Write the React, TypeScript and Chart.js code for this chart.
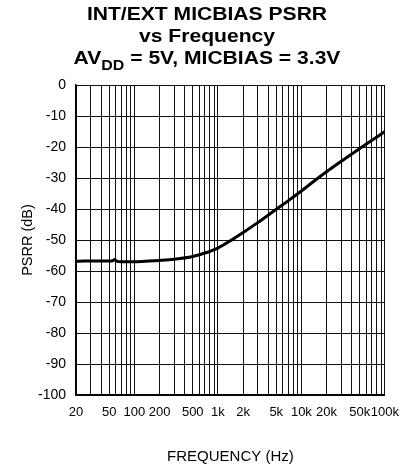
import React, { useEffect, useRef } from "react";
import { Chart, registerables } from "chart.js";

Chart.register(...registerables);

const frequencyHz = [
  20, 25, 30, 40, 50, 55, 58, 61, 70, 100, 150, 200, 300, 500, 700, 1000, 1500,
  2000, 3000, 5000, 7000, 10000, 15000, 20000, 30000, 50000, 70000, 100000,
];
const psrrDb = [
  -56.9, -56.8, -56.8, -56.8, -56.8, -56.7, -56.3, -56.8, -57.0, -57.0, -56.8,
  -56.6, -56.2, -55.3, -54.2, -52.6, -49.8, -47.6, -44.4, -40.1, -37.3, -34.2,
  -30.5, -28.0, -24.6, -20.5, -17.8, -15.0,
];

const xTickValues = [
  20, 30, 40, 50, 60, 70, 80, 90, 100, 200, 300, 400, 500, 600, 700, 800, 900,
  1000, 2000, 3000, 4000, 5000, 6000, 7000, 8000, 9000, 10000, 20000, 30000,
  40000, 50000, 60000, 70000, 80000, 90000, 100000,
];
const xLabelValues = [20, 50, 100, 200, 500, 1000, 2000, 5000, 10000, 20000, 50000, 100000];
const xLabelTexts = ["20", "50", "100", "200", "500", "1k", "2k", "5k", "10k", "20k", "50k", "100k"];

const titleLine1 = "INT/EXT MICBIAS PSRR";
const titleLine2 = "vs Frequency";
const titleLine3a = "AV";
const titleLine3sub = "DD";
const titleLine3b = " = 5V, MICBIAS = 3.3V";

const FONT = '"Liberation Sans", Arial, Helvetica, sans-serif';

const titlePlugin = {
  id: "customTitle",
  afterDraw(chart: any) {
    const ctx = chart.ctx as CanvasRenderingContext2D;
    const cx = 207;
    const sx = 1.14;
    const main = `bold 18.5px ${FONT}`;
    const sub = `bold 14px ${FONT}`;
    ctx.save();
    ctx.fillStyle = "#000";
    ctx.textBaseline = "alphabetic";
    ctx.textAlign = "left";
    const drawCentered = (text: string, y: number) => {
      ctx.font = main;
      const w = ctx.measureText(text).width;
      ctx.save();
      ctx.translate(cx, y);
      ctx.scale(sx, 1);
      ctx.fillText(text, -w / 2, 0);
      ctx.restore();
    };
    drawCentered(titleLine1, 20);
    drawCentered(titleLine2, 42);
    ctx.font = main;
    const wa = ctx.measureText(titleLine3a).width;
    const wb = ctx.measureText(titleLine3b).width;
    ctx.font = sub;
    const ws = ctx.measureText(titleLine3sub).width;
    const total = wa + ws + wb;
    ctx.save();
    ctx.translate(cx, 0);
    ctx.scale(sx, 1);
    let x = -total / 2;
    ctx.font = main;
    ctx.fillText(titleLine3a, x, 63.5);
    x += wa;
    ctx.font = sub;
    ctx.fillText(titleLine3sub, x, 70);
    x += ws;
    ctx.font = main;
    ctx.fillText(titleLine3b, x, 63.5);
    ctx.restore();
    ctx.restore();
  },
};

export default function App() {
  const ref = useRef<HTMLCanvasElement>(null);
  useEffect(() => {
    document.body.style.margin = "0";
    const data = frequencyHz.map((f, i) => ({ x: f, y: psrrDb[i] }));
    const chart = new Chart(ref.current!, {
      type: "line",
      data: {
        datasets: [
          {
            data,
            borderColor: "#000",
            borderWidth: 3,
            pointRadius: 0,
            cubicInterpolationMode: "monotone",
            fill: false,
          },
        ],
      },
      options: {
        animation: false,
        responsive: false,
        layout: { padding: { top: 85, right: 21, left: 0, bottom: 0 } },
        plugins: { legend: { display: false }, title: { display: false }, tooltip: { enabled: false } },
        scales: {
          x: {
            type: "logarithmic",
            min: 20,
            max: 100000,
            afterBuildTicks: (scale: any) => {
              scale.ticks = xTickValues.map((v) => ({ value: v }));
            },
            afterFit: (scale: any) => {
              scale.height = 71;
            },
            ticks: {
              autoSkip: false,
              maxRotation: 0,
              minRotation: 0,
              padding: 10,
              color: "#000",
              font: { family: FONT, size: 13 },
              callback: (v: any) => {
                const i = xLabelValues.indexOf(Number(v));
                return i >= 0 ? xLabelTexts[i] : "";
              },
            },
            grid: { color: "#111", lineWidth: 1, drawTicks: false },
            border: { color: "#000", width: 1.5 },
            title: {
              display: true,
              text: "FREQUENCY (Hz)",
              color: "#000",
              font: { family: FONT, size: 15 },
              padding: { top: 0, bottom: 0 },
            },
          },
          y: {
            type: "linear",
            min: -100,
            max: 0,
            afterFit: (scale: any) => {
              scale.width = 76;
            },
            ticks: {
              stepSize: 10,
              padding: 10,
              color: "#000",
              font: { family: FONT, size: 14 },
            },
            grid: { color: "#111", lineWidth: 1, drawTicks: false },
            border: { color: "#000", width: 1.5 },
            title: {
              display: true,
              text: "PSRR (dB)",
              color: "#000",
              font: { family: FONT, size: 14.5 },
              padding: { top: 19, bottom: 0 },
            },
          },
        },
      },
      plugins: [titlePlugin],
    });
    return () => chart.destroy();
  }, []);
  return (
    <div style={{ width: 409, height: 466 }}>
      <canvas ref={ref} width={409} height={466} style={{ display: "block" }} />
    </div>
  );
}
